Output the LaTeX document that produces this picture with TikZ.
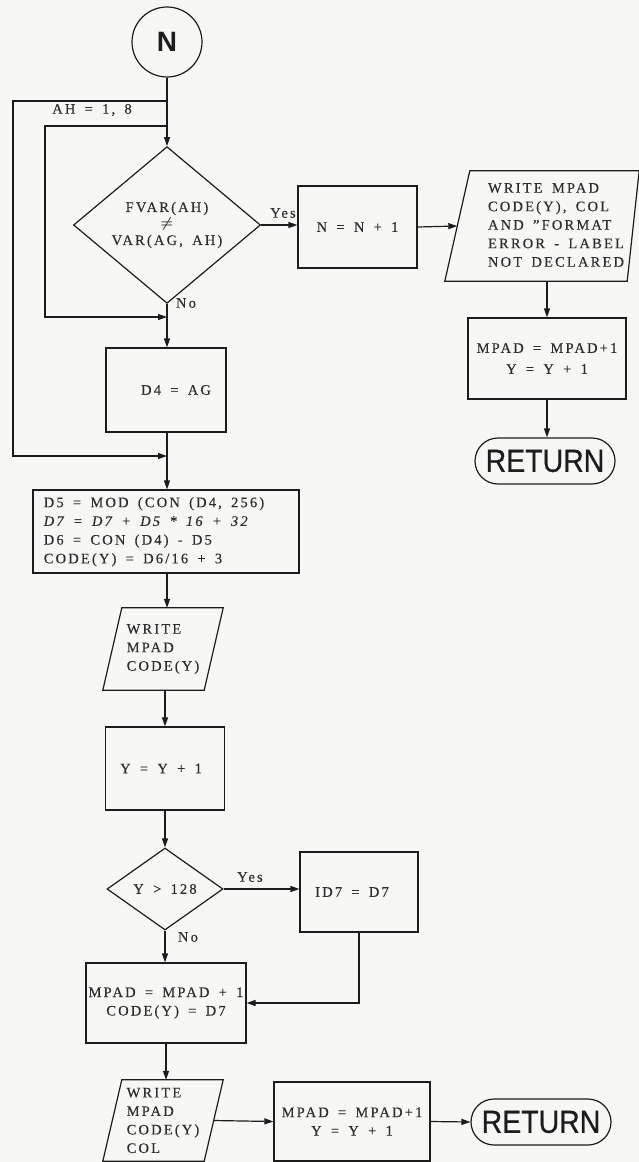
\documentclass[tikz,border=0pt]{standalone}
\usepackage{fontspec}
\usepackage{graphicx}
\setmainfont{Liberation Serif}[LetterSpace=15,WordSpace=1.6,FakeBold=0.3]
\newfontfamily\lettering{Liberation Sans}[FakeBold=0.7]
\newfontfamily\heavylettering{Liberation Sans Bold}
\usetikzlibrary{shapes.geometric,shapes.misc,arrows.meta,calc}

\definecolor{paper}{RGB}{247,247,245}
\definecolor{ink}{RGB}{28,28,28}
\definecolor{type}{RGB}{45,45,45}

% slanted input/output frame drawn around a plain node:
% #1 node, #2 inset of the top-left corner, #3 inset of the bottom-right corner
\newcommand\ioframe[3]{%
  \draw[ln] ([xshift=#2]#1.north west) -- (#1.north east)
            -- ([xshift=-#3]#1.south east) -- (#1.south west) -- cycle;}

\begin{document}
\begin{tikzpicture}[x=1pt,y=-1pt,
  ln/.style={draw=ink,line width=1.2pt},
  arr/.style={ln,-{Triangle[length=9pt,width=6pt]}},
  txt/.style={text=type,font=\fontsize{14.5}{18.5}\selectfont,inner sep=0pt},
  proc/.style={txt,ln,rectangle,align=center},
  iobox/.style={txt,rectangle,align=left},
  dec/.style={txt,ln,diamond,align=center},
  term/.style={ln,rounded rectangle,inner sep=0pt,text=ink,
    font=\lettering\fontsize{32}{32}\selectfont,minimum width=140pt,minimum height=46pt},
]
\fill[paper] (0,0) rectangle (639,1162);
\useasboundingbox (0,0) rectangle (639,1162);

% ---- entry and first test ----
\node[ln,circle,minimum size=70pt,inner sep=0pt,text=ink,
      font=\heavylettering\fontsize{28}{28}\selectfont] (nc) at (167,42) {N};
\node[dec,minimum width=187pt,minimum height=132pt] (d1) at (167,225)
  {FVAR(AH)\\[-3pt]{\boldmath$\neq$}\\[-1pt]VAR(AG, AH)};
\node[txt] (yes1) at (283,213) {Yes};
\node[txt] (no1) at (186,303) {No};
\node[txt] (ah) at (92,110) {AH = 1, 8};

\node[proc,minimum width=119pt,minimum height=82pt] (n1) at (357.5,227) {N = N + 1};
\node[iobox,minimum width=194pt,minimum height=110pt] (wr1) at (542,226)
  {\hspace*{28pt}\begin{tabular}{@{}l@{}}WRITE MPAD\\CODE(Y), COL\\AND "FORMAT\\ERROR - LABEL\\NOT DECLARED\end{tabular}};
\ioframe{wr1}{25pt}{12pt}
\node[proc,minimum width=158pt,minimum height=81pt,
      font=\fontsize{14.5}{21}\selectfont] (mp1) at (547,358.5) {MPAD = MPAD+1\\Y = Y + 1};
\node[term] (ret1) at (545,461) {\scalebox{0.89}[1]{RETURN}};

% ---- loop junctions ----
\coordinate (jOut) at (167,101);
\coordinate (jIn)  at (167,126);
\coordinate (cOut1) at (13,101);
\coordinate (cOut2) at (13,456);
\coordinate (cIn1) at (45,126);
\coordinate (cIn2) at (45,317);
\coordinate (mIn)  at (167,317);
\coordinate (mOut) at (167,456);

\node[proc,minimum width=120pt,minimum height=84pt] (d4) at (166,390) {\hspace*{20pt}D4 = AG};
\node[proc,minimum width=266pt,minimum height=83pt,
      font=\fontsize{14.5}{18.7}\selectfont] (calc) at (166,531.5)
  {\begin{tabular}{@{}l@{}}D5 = MOD (CON (D4, 256)\\{\itshape D7 = D7 + D5 * 16 + 32}\\D6 = CON (D4) - D5\\CODE(Y) = D6/16 + 3\end{tabular}\hspace*{24pt}};

% ---- output and counter ----
\node[iobox,minimum width=120pt,minimum height=82pt] (wr2) at (163,649) {WRITE\\MPAD\\CODE(Y)};
\ioframe{wr2}{19pt}{19pt}
\node[proc,minimum width=119pt,minimum height=83pt] (yy) at (165,768.5) {Y = Y + 1\hspace*{8pt}};
\node[dec,minimum width=116pt,minimum height=82pt] (d2) at (165,889) {Y > 128};
\node[txt] (yes2) at (250,877) {Yes};
\node[txt] (no2) at (188,937) {No};
\node[proc,minimum width=118pt,minimum height=80pt] (id7) at (359,892) {ID7 = D7\hspace*{14pt}};
\node[proc,minimum width=160pt,minimum height=80pt] (mc) at (166,1003) {MPAD = MPAD + 1\\CODE(Y) = D7};
\node[iobox,minimum width=120pt,minimum height=81pt] (wr3) at (163,1120.5) {WRITE\\MPAD\\CODE(Y)\\COL};
\ioframe{wr3}{19pt}{19pt}
\node[proc,minimum width=156pt,minimum height=79pt] (box3) at (352,1121.5) {MPAD = MPAD+1\\Y = Y + 1};
\node[term] (ret2) at (541,1122) {\scalebox{0.89}[1]{RETURN}};

% ---- connectors ----
\draw[arr] (nc) -- (d1);
\draw[arr] (jOut) -- (cOut1) -- (cOut2) -- (mOut);
\draw[arr] (jIn) -- (cIn1) -- (cIn2) -- (mIn);
\draw[arr] (d1.east) -- (d1.east -| n1.west);
\draw[arr] (n1.east) -- ($(wr1.south west)!0.5!([xshift=25pt]wr1.north west)$);
\draw[arr] (mp1.north |- wr1.south) -- (mp1.north);
\draw[arr] (mp1.south) -- (mp1.south |- ret1.north);
\draw[arr] (d1.south) -- (d4.north -| d1.south);
\draw[arr] (d4.south -| d1.south) -- (calc.north -| d1.south);

\draw[arr] (calc.south -| d1.south) -- (wr2.north -| d1.south);
\draw[arr] (wr2.south -| yy.north) -- (yy.north);
\draw[arr] (yy.south) -- (yy.south |- d2.north);
\draw[arr] (d2.east) -- (d2.east -| id7.west);
\draw[arr] (id7.south) |- (mc.east);
\draw[arr] (d2.south) -- (d2.south |- mc.north);
\draw[arr] (mc.south) -- (mc.south |- wr3.north);
\draw[arr] ($(wr3.north east)!0.5!([xshift=-19pt]wr3.south east)$) -- (box3.west);
\draw[arr] (box3.east) -- (ret2.west);
\end{tikzpicture}
\end{document}
